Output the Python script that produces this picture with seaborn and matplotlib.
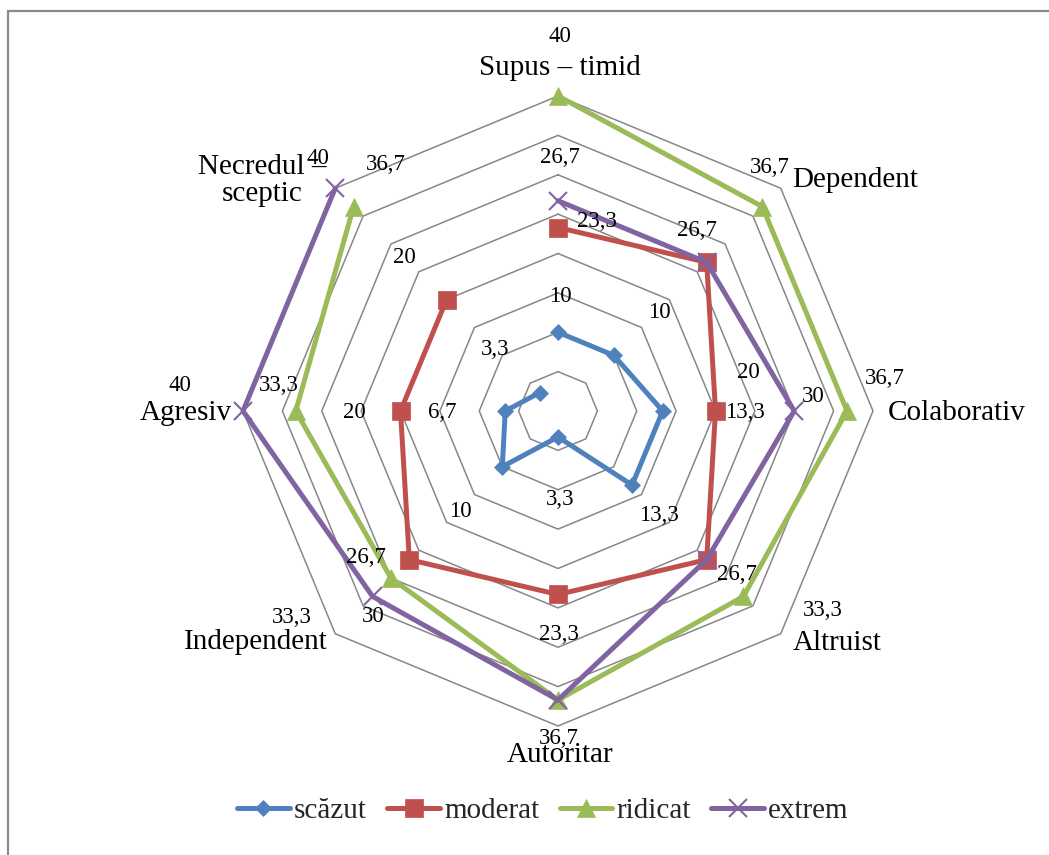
import numpy as np
import matplotlib
matplotlib.use("Agg")
import matplotlib.pyplot as plt
from matplotlib.patches import Rectangle
import seaborn as sns

# ---------------- data ----------------
categories = ["Supus – timid", "Dependent", "Colaborativ", "Altruist",
              "Autoritar", "Independent", "Agresiv", "Necredul –\nsceptic"]
series_names = ["scăzut", "moderat", "ridicat", "extrem"]
scazut = [10, 10, 13.3, 13.3, 3.3, 10, 6.7, 3.3]
moderat = [23.3, 26.7, 20, 26.7, 23.3, 26.7, 20, 20]
ridicat = [40, 36.7, 36.7, 33.3, 36.7, 30, 33.3, 36.7]
extrem = [26.7, 26.7, 30, 26.7, 36.7, 33.3, 40, 40]
ring_levels = [5, 10, 15, 20, 25, 30, 35, 40]

# ---------------- styles ----------------
colors = ["#4F81BD", "#C0504D", "#9BBB59", "#8064A2"]
markers = ["D", "s", "^", "x"]
msizes = [8.5, 12.5, 13, 13]

# data-label offsets in pixels (dx right, dy down); None = label hidden (overlap)
label_offsets = [
    [(2, -36), (46, -43), (82, 1), (27, 30), (2, 63), (-42, 45), (-63, 2), (-44, -43)],
    [(39, -6), (-10, -32), (33, -38), (30, 15), (1, 40), (-43, -2), (-46, 2), (-42, -42)],
    [(2, -59), (7, -39), (38, -33), (79, 14), (1, 38), (-18, 38), (-17, -26), (32, -42)],
    [(2, -43), None, (19, -14), None, None, (-81, 21), (-63, -26), (-17, -30)],
]
cat_offsets = [(2, -28), (74, -8), (84, 2), (56, 9), (2, 29), (-79, 8), (-57, 2), (-73, -8)]

sns.set_style("white")
plt.rcParams["font.family"] = ["Liberation Serif", "DejaVu Serif"]

W, H = 1049, 855
fig = plt.figure(figsize=(W / 100, H / 100), dpi=100)
cx, cy, R = 558, 411, 315
ax = fig.add_axes([(cx - R) / W, (H - cy - R) / H, 2 * R / W, 2 * R / H], projection="polar")
ax.set_theta_zero_location("N")
ax.set_theta_direction(-1)
ax.set_ylim(0, 40)
ax.set_axis_off()

n = len(categories)
theta = np.arange(n) * 2 * np.pi / n
theta_c = np.append(theta, theta[0])

# octagonal grid rings
for lvl in ring_levels:
    ax.plot(theta_c, [lvl] * (n + 1), color="#878787", lw=1.1, zorder=1, clip_on=False)

all_series = [scazut, moderat, ridicat, extrem]
for i, (name, vals) in enumerate(zip(series_names, all_series)):
    vals_c = list(vals) + [vals[0]]
    extra = dict(markeredgecolor=colors[i], markerfacecolor=colors[i])
    if markers[i] == "x":
        extra["markeredgewidth"] = 1.5
    else:
        extra["markeredgewidth"] = 0.5
    sns.lineplot(x=theta_c, y=vals_c, ax=ax, sort=False, color=colors[i],
                 marker=markers[i], markersize=msizes[i], lw=3.6, label=name,
                 legend=False, clip_on=False, zorder=3 + i, **extra)

# data labels
for i, vals in enumerate(all_series):
    for j, v in enumerate(vals):
        off = label_offsets[i][j]
        if off is None:
            continue
        txt = f"{v:g}".replace(".", ",")
        ax.annotate(txt, xy=(theta[j], v), xytext=(off[0], -off[1]),
                    textcoords="offset pixels", ha="center", va="center",
                    fontsize=16.5, color="black", zorder=10, annotation_clip=False)

# category labels
for j, cat in enumerate(categories):
    off = cat_offsets[j]
    ax.annotate(cat, xy=(theta[j], ring_levels[-1]), xytext=(off[0], -off[1]),
                textcoords="offset pixels", ha="center", va="center",
                fontsize=21, color="black", zorder=10, annotation_clip=False,
                multialignment="center", linespacing=1.05)

# legend
handles, labels = ax.get_legend_handles_labels()
fig.legend(handles, labels, loc="center", bbox_to_anchor=(543 / W, 1 - 811 / H),
           ncol=4, frameon=False, fontsize=21, handlelength=1.8,
           handletextpad=0.15, columnspacing=0.7, borderaxespad=0)

# chart-area border (only top and left edges visible in the crop)
fig.patches.append(Rectangle((8 / W, -0.5), 2, 0.5 + (1 - 11 / H), transform=fig.transFigure,
                             fill=False, edgecolor="#8a8a8a", lw=1.6))

fig.savefig("out.png", dpi=100)
